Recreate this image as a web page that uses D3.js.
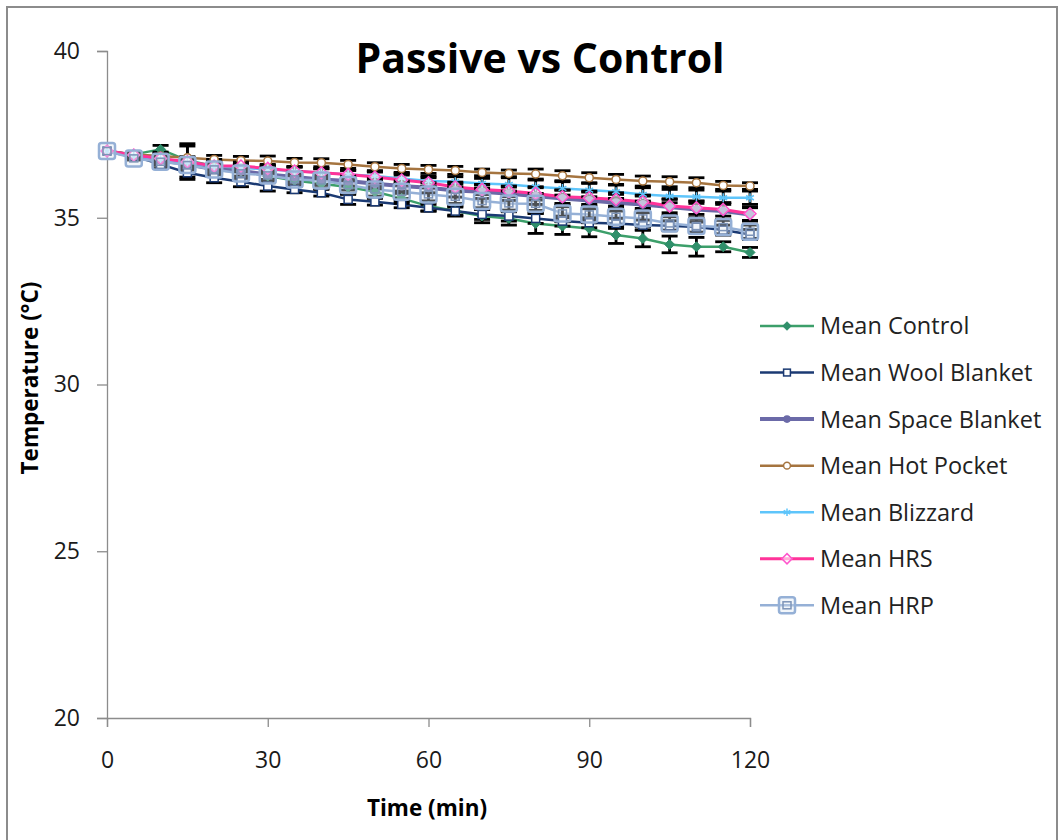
<!DOCTYPE html>
<html>
<head>
<meta charset="utf-8">
<script src="https://cdn.jsdelivr.net/npm/d3@7"></script>
<style>
  body { margin: 0; background: #fff; }
  svg { display: block; font-family: "Open Sans", sans-serif; }
</style>
</head>
<body>
<div id="chart"></div>
<script>
// time points (min)
let times = d3.range(0, 121, 5);

// series names, in drawing order
let seriesNames = ["Mean Control", "Mean Wool Blanket", "Mean Space Blanket",
    "Mean Hot Pocket", "Mean Blizzard", "Mean HRS", "Mean HRP"];

// mean temperatures (°C)
let control = [37.0, 36.9, 37.05, 36.72, 36.55, 36.4, 36.25, 36.12, 36.02, 35.92, 35.78, 35.58, 35.35,
    35.2, 35.05, 34.98, 34.83, 34.75, 34.68, 34.48, 34.38, 34.2, 34.13, 34.13, 33.96];
let wool = [37.0, 36.85, 36.6, 36.35, 36.2, 36.08, 35.95, 35.85, 35.75, 35.55, 35.48, 35.4, 35.3,
    35.2, 35.1, 35.05, 34.98, 34.9, 34.85, 34.83, 34.78, 34.76, 34.72, 34.63, 34.5];
let space = [37.0, 36.85, 36.72, 36.6, 36.45, 36.4, 36.3, 36.22, 36.15, 36.1, 36.02, 35.95, 35.9,
    35.82, 35.78, 35.72, 35.65, 35.58, 35.52, 35.45, 35.4, 35.32, 35.25, 35.2, 35.1];
let hotPocket = [37.0, 36.9, 36.85, 36.8, 36.75, 36.72, 36.7, 36.66, 36.65, 36.6, 36.53, 36.48, 36.45,
    36.42, 36.36, 36.33, 36.31, 36.26, 36.2, 36.15, 36.1, 36.08, 36.05, 35.97, 35.95];
let blizzard = [37.0, 36.85, 36.75, 36.65, 36.55, 36.5, 36.45, 36.4, 36.35, 36.3, 36.25, 36.18, 36.1,
    36.08, 36.03, 36.0, 35.93, 35.88, 35.83, 35.78, 35.7, 35.65, 35.63, 35.6, 35.6];
let hrs = [37.0, 36.88, 36.78, 36.68, 36.55, 36.55, 36.48, 36.4, 36.35, 36.3, 36.22, 36.13, 36.05,
    35.92, 35.85, 35.8, 35.73, 35.63, 35.6, 35.55, 35.48, 35.35, 35.3, 35.25, 35.12];
let hrp = [37.0, 36.78, 36.68, 36.58, 36.45, 36.33, 36.27, 36.15, 36.12, 35.98, 35.85, 35.78, 35.7,
    35.63, 35.5, 35.43, 35.42, 35.13, 35.1, 35.03, 34.98, 34.83, 34.75, 34.72, 34.58];

// error bar half-widths (°C)
let controlErr = [0, 0.05, 0.12, 0.5, 0.2, 0.2, 0.2, 0.15, 0.15, 0.2, 0.15, 0.15, 0.15,
    0.15, 0.2, 0.2, 0.3, 0.25, 0.25, 0.25, 0.25, 0.25, 0.28, 0.15, 0.15];
let woolErr = [0, 0.05, 0.1, 0.2, 0.15, 0.15, 0.15, 0.1, 0.1, 0.15, 0.1, 0.1, 0.1,
    0.12, 0.15, 0.15, 0.15, 0.15, 0.15, 0.15, 0.15, 0.15, 0.15, 0.15, 0.15];
let spaceErr = [0, 0.05, 0.1, 0.15, 0.15, 0.15, 0.15, 0.15, 0.15, 0.15, 0.15, 0.15, 0.15,
    0.2, 0.2, 0.2, 0.25, 0.25, 0.25, 0.25, 0.25, 0.25, 0.25, 0.25, 0.2];
let hotPocketErr = [0, 0.05, 0.12, 0.35, 0.12, 0.12, 0.15, 0.12, 0.12, 0.12, 0.12, 0.12, 0.12,
    0.12, 0.1, 0.1, 0.15, 0.15, 0.15, 0.15, 0.15, 0.15, 0.15, 0.12, 0.1];
let blizzardErr = [0, 0.05, 0.1, 0.15, 0.12, 0.12, 0.12, 0.12, 0.12, 0.12, 0.15, 0.15, 0.15,
    0.15, 0.15, 0.2, 0.2, 0.2, 0.2, 0.2, 0.2, 0.2, 0.2, 0.2, 0.2];
let hrsErr = [0, 0.05, 0.1, 0.15, 0.12, 0.12, 0.12, 0.12, 0.12, 0.12, 0.15, 0.15, 0.15,
    0.15, 0.15, 0.15, 0.2, 0.2, 0.2, 0.2, 0.2, 0.2, 0.2, 0.2, 0.2];
let hrpErr = [0, 0.05, 0.1, 0.15, 0.15, 0.15, 0.15, 0.15, 0.15, 0.15, 0.2, 0.2, 0.2,
    0.2, 0.2, 0.2, 0.2, 0.25, 0.25, 0.25, 0.25, 0.2, 0.2, 0.2, 0.2];

let xTicks = [0, 30, 60, 90, 120];
let yTicks = [20, 25, 30, 35, 40];

let series = [
    { name: seriesNames[0], values: control, err: controlErr, color: "#3c9f6a", width: 2.5, marker: "diamond" },
    { name: seriesNames[1], values: wool, err: woolErr, color: "#1b3a73", width: 2.5, marker: "square" },
    { name: seriesNames[2], values: space, err: spaceErr, color: "#6b6aa8", width: 4, marker: "dot" },
    { name: seriesNames[3], values: hotPocket, err: hotPocketErr, color: "#a5743f", width: 2.5, marker: "circle" },
    { name: seriesNames[4], values: blizzard, err: blizzardErr, color: "#5ec5fb", width: 2.5, marker: "star" },
    { name: seriesNames[5], values: hrs, err: hrsErr, color: "#ff3399", width: 3, marker: "odiamond" },
    { name: seriesNames[6], values: hrp, err: hrpErr, color: "#95b0d6", width: 2.5, marker: "dsquare" }
];

let width = 1062, height = 840;
let svg = d3.select("#chart").append("svg")
    .attr("width", width)
    .attr("height", height);

// chart area border
svg.append("rect")
    .attr("x", 7).attr("y", 7)
    .attr("width", 1050).attr("height", 860)
    .attr("fill", "#fff")
    .attr("stroke", "#8c8c8c")
    .attr("stroke-width", 2);

let x = d3.scaleLinear().domain([0, 120]).range([107, 750]);
let y = d3.scaleLinear().domain([20, 40]).range([718, 51]);

// axes
let xAxis = svg.append("g")
    .attr("transform", `translate(0,${y(20)})`)
    .call(d3.axisBottom(x).tickValues(xTicks).tickSize(9).tickPadding(25));
let yAxis = svg.append("g")
    .attr("transform", `translate(${x(0)},0)`)
    .call(d3.axisLeft(y).tickValues(yTicks).tickSize(10).tickPadding(17));

[xAxis, yAxis].forEach(a => {
    a.attr("font-family", null);
    a.select(".domain").attr("stroke", "#8c8c8c").attr("stroke-width", 1.3);
    a.selectAll(".tick line").attr("stroke", "#8c8c8c").attr("stroke-width", 1.3);
    a.selectAll(".tick text")
        .attr("font-size", 23)
        .attr("fill", "#1a1a1a");
});

// titles
svg.append("text")
    .attr("x", 540).attr("y", 73)
    .attr("text-anchor", "middle")
    .attr("font-size", 41)
    .attr("font-weight", "bold")
    .attr("fill", "#000")
    .text("Passive vs Control");

svg.append("text")
    .attr("x", 427).attr("y", 816)
    .attr("text-anchor", "middle")
    .attr("font-size", 22.5)
    .attr("font-weight", "bold")
    .attr("fill", "#000")
    .text("Time (min)");

svg.append("text")
    .attr("transform", `translate(38,378) rotate(-90)`)
    .attr("text-anchor", "middle")
    .attr("font-size", 22.5)
    .attr("font-weight", "bold")
    .attr("fill", "#000")
    .text("Temperature (°C)");

function drawMarker(g, s, cx, cy, scale) {
    let k = scale || 1;
    switch (s.marker) {
        case "diamond":
            g.append("path")
                .attr("d", `M${cx},${cy - 5 * k}L${cx + 5 * k},${cy}L${cx},${cy + 5 * k}L${cx - 5 * k},${cy}Z`)
                .attr("fill", "#2f8f6a").attr("stroke", "#2f8f6a");
            break;
        case "square":
            g.append("rect")
                .attr("x", cx - 4 * k).attr("y", cy - 4 * k)
                .attr("width", 8 * k).attr("height", 8 * k)
                .attr("fill", "#fff").attr("stroke", s.color).attr("stroke-width", 1.5);
            break;
        case "dot":
            g.append("circle")
                .attr("cx", cx).attr("cy", cy).attr("r", 4.5 * k)
                .attr("fill", s.color);
            break;
        case "circle":
            g.append("circle")
                .attr("cx", cx).attr("cy", cy).attr("r", 4 * k)
                .attr("fill", "#fff").attr("stroke", s.color).attr("stroke-width", 1.5);
            break;
        case "star": {
            let r = 4.5 * k;
            let p = "";
            [0, 60, 120].forEach(a => {
                let rad = a * Math.PI / 180;
                p += `M${cx - r * Math.sin(rad)},${cy - r * Math.cos(rad)}L${cx + r * Math.sin(rad)},${cy + r * Math.cos(rad)}`;
            });
            g.append("path").attr("d", p).attr("stroke", s.color).attr("stroke-width", 1.5);
            break;
        }
        case "odiamond":
            g.append("path")
                .attr("d", `M${cx},${cy - 6 * k}L${cx + 6 * k},${cy}L${cx},${cy + 6 * k}L${cx - 6 * k},${cy}Z`)
                .attr("fill", "#fff").attr("fill-opacity", 0.6)
                .attr("stroke", "#ff55cc").attr("stroke-width", 1.5);
            break;
        case "dsquare":
            g.append("rect")
                .attr("x", cx - 8 * k).attr("y", cy - 8 * k)
                .attr("width", 16 * k).attr("height", 16 * k)
                .attr("rx", 2.5)
                .attr("fill", "#dbe5f2").attr("fill-opacity", 0.35)
                .attr("stroke", s.color).attr("stroke-width", 2.5);
            g.append("rect")
                .attr("x", cx - 4 * k).attr("y", cy - 3.5 * k)
                .attr("width", 8 * k).attr("height", 7 * k)
                .attr("fill", "none").attr("stroke", "#7d94b8").attr("stroke-width", 1.5);
            break;
    }
}

let line = d3.line()
    .x((d, i) => x(times[i]))
    .y(d => y(d));

let plot = svg.append("g");

// lines
series.forEach(s => {
    plot.append("path")
        .datum(s.values)
        .attr("fill", "none")
        .attr("stroke", s.color)
        .attr("stroke-width", s.width)
        .attr("stroke-linejoin", "round")
        .attr("d", line);
});

// error bars
let errG = plot.append("g")
    .attr("stroke", "#000")
    .attr("stroke-width", 2.8);
series.forEach(s => {
    s.values.forEach((v, i) => {
        let e = s.err[i];
        if (!e) return;
        let cx = x(times[i]);
        let y0 = y(v + e), y1 = y(v - e);
        errG.append("line").attr("x1", cx).attr("x2", cx).attr("y1", y0).attr("y2", y1);
        errG.append("line").attr("x1", cx - 8).attr("x2", cx + 8).attr("y1", y0).attr("y2", y0);
        errG.append("line").attr("x1", cx - 8).attr("x2", cx + 8).attr("y1", y1).attr("y2", y1);
    });
});

// markers
series.forEach(s => {
    let g = plot.append("g");
    s.values.forEach((v, i) => drawMarker(g, s, x(times[i]), y(v)));
});

// legend
let legend = svg.append("g");
series.forEach((s, i) => {
    let ly = 326 + i * 46.55;
    legend.append("line")
        .attr("x1", 760).attr("x2", 814)
        .attr("y1", ly).attr("y2", ly)
        .attr("stroke", s.color)
        .attr("stroke-width", s.width);
    drawMarker(legend, s, 787, ly, s.marker === "dsquare" ? 1 : 0.85);
    legend.append("text")
        .attr("x", 820).attr("y", ly)
        .attr("dy", "0.36em")
        .attr("font-size", 23.5)
        .attr("fill", "#222")
        .text(s.name);
});
</script>
</body>
</html>
